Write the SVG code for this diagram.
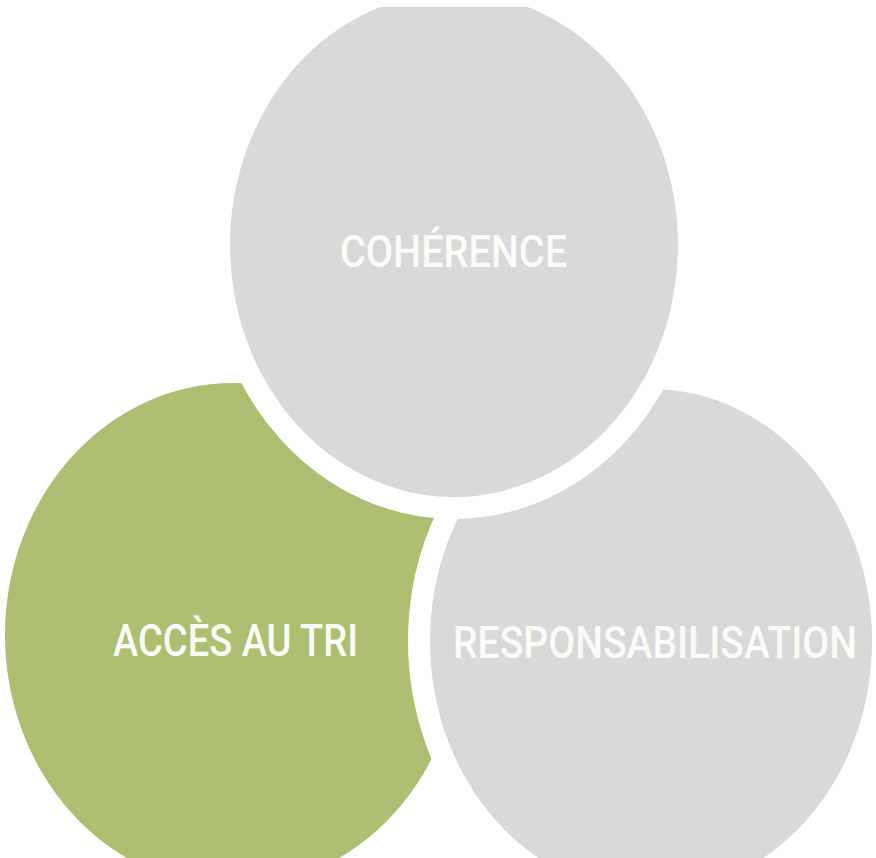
<svg xmlns="http://www.w3.org/2000/svg" width="876" height="858" viewBox="0 0 876 858">
<style>
.c{stroke:#ffffff;stroke-width:44;paint-order:stroke}
.g{fill:#d9d9d9}
.v{fill:#acbe6f}
.t{font-family:Roboto,"Liberation Sans",sans-serif;font-size:44px;font-weight:500;fill:#fbfbf8;text-anchor:start}
</style>
<defs>
<clipPath id="clip"><rect x="0" y="7" width="876" height="851"/></clipPath>
</defs>
<rect width="876" height="858" fill="#ffffff"/>
<g clip-path="url(#clip)">
<g id="acces">
<ellipse class="c v" cx="233" cy="635" rx="228" ry="252"/>
<text class="t" x="113" y="656" textLength="245" lengthAdjust="spacingAndGlyphs">ACCÈS AU TRI</text>
</g>
<g id="responsabilisation">
<ellipse class="c g" cx="651" cy="641" rx="221" ry="252"/>
<text class="t" x="453" y="658" textLength="404" lengthAdjust="spacingAndGlyphs">RESPONSABILISATION</text>
</g>
<g id="coherence">
<ellipse class="c g" cx="454" cy="245" rx="224" ry="252"/>
<text class="t" x="340" y="267" textLength="227" lengthAdjust="spacingAndGlyphs">COHÉRENCE</text>
</g>
<g id="connectors"/>
</g>
</svg>
